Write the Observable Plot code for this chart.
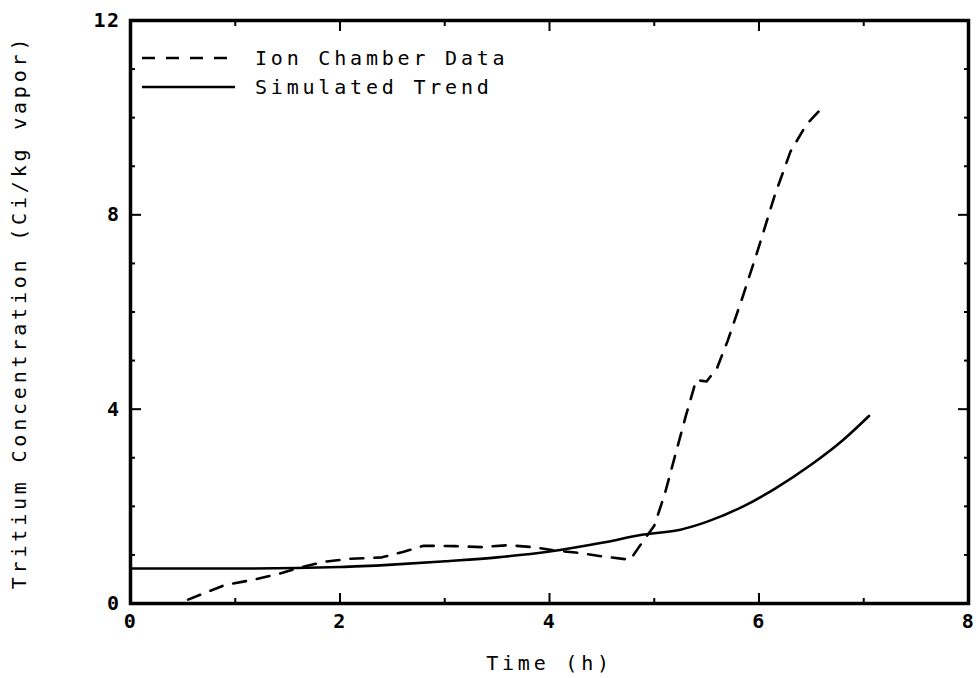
<!DOCTYPE html>
<html>
<head>
<meta charset="utf-8">
<script src="https://cdn.jsdelivr.net/npm/d3@7"></script>
<script src="https://cdn.jsdelivr.net/npm/@observablehq/plot@0.6"></script>
<style>
  html, body { margin: 0; padding: 0; background: #fff; }
  #chart svg { display: block; }
  #chart [aria-label="y-axis label"] text,
  #chart [aria-label="x-axis label"] text { letter-spacing: 3.8px; }
  #chart [aria-label="x-axis tick label"] text,
  #chart [aria-label="y-axis tick label"] text { letter-spacing: 1.5px; font-weight: bold; }
</style>
</head>
<body>
<div id="chart"></div>
<script>
// Ion chamber data (dashed)
const ionTime = [0.55, 0.9, 1.15, 1.4, 1.6, 1.85, 2.1, 2.4, 2.6, 2.8, 3.1, 3.35, 3.6, 3.85, 4.05, 4.25, 4.5, 4.77, 4.85, 5.0, 5.1, 5.2, 5.3, 5.4, 5.5, 5.6, 5.7, 5.85, 6.0, 6.15, 6.3, 6.45, 6.58];
const ionConc = [0.08, 0.38, 0.48, 0.6, 0.73, 0.86, 0.92, 0.95, 1.06, 1.19, 1.18, 1.16, 1.2, 1.16, 1.09, 1.05, 0.97, 0.9, 1.15, 1.6, 2.25, 3.05, 3.85, 4.6, 4.57, 4.85, 5.4, 6.35, 7.35, 8.4, 9.3, 9.85, 10.15];
// Simulated trend (solid)
const simTime = [0, 1, 2, 2.5, 3, 3.5, 4, 4.5, 4.9, 5.25, 5.5, 5.85, 6.15, 6.5, 6.8, 7.05];
const simConc = [0.72, 0.72, 0.75, 0.8, 0.87, 0.95, 1.07, 1.25, 1.42, 1.52, 1.68, 2.0, 2.36, 2.86, 3.36, 3.86];
// Ticks
const xMajorTicks = [0, 2, 4, 6, 8];
const xMinorTicks = [1, 3, 5, 7];
const yMajorTicks = [0, 4, 8, 12];
const yMinorTicks = [1, 2, 3, 5, 6, 7, 9, 10, 11];
// Text
const xTitle = "Time (h)";
const yTitle = "Tritium Concentration (Ci/kg vapor)";
const legendLabels = ["Ion Chamber Data", "Simulated Trend"];

const ion = ionTime.map((t, i) => ({t, c: ionConc[i]}));
const sim = simTime.map((t, i) => ({t, c: simConc[i]}));

const FONT = "'DejaVu Sans Mono', 'Liberation Mono', monospace";
const DASH = "13,11";

function legendMark(index, scales, values, dims) {
  const g = d3.create("svg:g").attr("aria-label", "legend")
    .attr("font-family", FONT).attr("font-size", 20).attr("fill", "#000")
    .attr("text-anchor", "start");
  const x0 = dims.marginLeft + 12, x1 = dims.marginLeft + 105, tx = dims.marginLeft + 125;
  const rows = [dims.marginTop + 38, dims.marginTop + 67];
  const dashes = [DASH, null];
  legendLabels.forEach((lab, i) => {
    const l = g.append("line").attr("x1", x0).attr("x2", x1).attr("y1", rows[i]).attr("y2", rows[i])
      .attr("stroke", "#000").attr("stroke-width", 2.6);
    if (dashes[i]) l.attr("stroke-dasharray", dashes[i]);
    g.append("text").attr("x", tx).attr("y", rows[i]).attr("dy", "0.35em")
      .attr("text-anchor", "start").attr("letter-spacing", 3.8).text(lab);
  });
  return g.node();
}

const tickFmt = d => String(d);

const chart = Plot.plot({
  width: 980,
  height: 678,
  marginLeft: 130,
  marginRight: 12,
  marginTop: 20,
  marginBottom: 75,
  style: {fontFamily: FONT, fontSize: "20px", color: "#000", background: "#fff"},
  x: {domain: [0, 8]},
  y: {domain: [0, 12]},
  marks: [
    // inward ticks, all four sides
    Plot.axisX(xMajorTicks, {anchor: "bottom", tickSize: -10, strokeWidth: 2, tickFormat: () => "", label: null}),
    Plot.axisX(xMinorTicks, {anchor: "bottom", tickSize: -5, strokeWidth: 2, tickFormat: () => "", label: null}),
    Plot.axisX(xMajorTicks, {anchor: "top", tickSize: -10, strokeWidth: 2, tickFormat: () => "", label: null}),
    Plot.axisX(xMinorTicks, {anchor: "top", tickSize: -5, strokeWidth: 2, tickFormat: () => "", label: null}),
    Plot.axisY(yMajorTicks, {anchor: "left", tickSize: -11, strokeWidth: 2, tickFormat: () => "", label: null}),
    Plot.axisY(yMinorTicks, {anchor: "left", tickSize: -5, strokeWidth: 2, tickFormat: () => "", label: null}),
    Plot.axisY(yMajorTicks, {anchor: "right", tickSize: -11, strokeWidth: 2, tickFormat: () => "", label: null}),
    Plot.axisY(yMinorTicks, {anchor: "right", tickSize: -5, strokeWidth: 2, tickFormat: () => "", label: null}),
    // labels
    Plot.axisX(xMajorTicks, {anchor: "bottom", tickSize: 0, tickPadding: 10, tickFormat: tickFmt,
      label: xTitle, labelAnchor: "center", labelOffset: 66, labelArrow: "none"}),
    Plot.axisY(yMajorTicks, {anchor: "left", tickSize: 0, tickPadding: 10, tickFormat: tickFmt,
      label: yTitle, labelAnchor: "center", labelOffset: 119, labelArrow: "none"}),
    Plot.frame({stroke: "#000", strokeWidth: 3.5}),
    Plot.line(sim, {x: "t", y: "c", stroke: "#000", strokeWidth: 2.6, curve: "monotone-x"}),
    Plot.line(ion, {x: "t", y: "c", stroke: "#000", strokeWidth: 2.6, strokeDasharray: DASH}),
    legendMark
  ]
});

document.getElementById("chart").appendChild(chart);
</script>
</body>
</html>
